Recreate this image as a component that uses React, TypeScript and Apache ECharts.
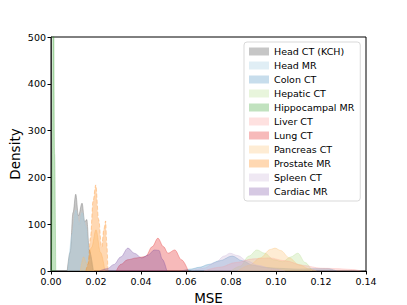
import React, { useEffect, useRef } from "react";
import * as echarts from "echarts";

const seriesNames = [
  "Head CT (KCH)",
  "Head MR",
  "Colon CT",
  "Hepatic CT",
  "Hippocampal MR",
  "Liver CT",
  "Lung CT",
  "Pancreas CT",
  "Prostate MR",
  "Spleen CT",
  "Cardiac MR",
];

const seriesColors = [
  "rgba(128,128,128,0.45)",
  "rgba(166,206,227,0.35)",
  "rgba(31,120,180,0.25)",
  "rgba(178,223,138,0.3)",
  "rgba(51,160,44,0.3)",
  "rgba(251,154,153,0.3)",
  "rgba(227,26,28,0.3)",
  "rgba(253,191,111,0.3)",
  "rgba(255,127,0,0.3)",
  "rgba(202,178,214,0.3)",
  "rgba(106,61,154,0.28)",
];

const headCTKCH = [[0.0072, 0], [0.0085, 40], [0.0098, 125], [0.011, 164], [0.0122, 118], [0.0138, 145], [0.015, 105], [0.0159, 110], [0.017, 45], [0.0187, 0]];
const headMR = [[0.0075, 0], [0.0095, 80], [0.011, 130], [0.0125, 100], [0.0138, 125], [0.0155, 95], [0.017, 40], [0.019, 0]];
const colonCT = [[0.058, 0], [0.062, 4], [0.066, 8], [0.07, 14], [0.075, 22], [0.0805, 32], [0.085, 22], [0.09, 12], [0.095, 8], [0.1, 6], [0.11, 4], [0.118, 5], [0.123, 5], [0.127, 0]];
const hepaticCT = [[0.08, 0], [0.084, 10], [0.088, 32], [0.0915, 45], [0.095, 38], [0.099, 24], [0.103, 20], [0.1065, 30], [0.1097, 38], [0.113, 18], [0.116, 0]];
const hippocampalMR = [[0.0002, 0], [0.0007, 250], [0.001, 800], [0.0013, 800], [0.0016, 250], [0.0021, 0]];
const liverCT = [[0.068, 0], [0.075, 8], [0.082, 18], [0.09, 26], [0.097, 28], [0.104, 22], [0.112, 12], [0.12, 6], [0.128, 5], [0.134, 3], [0.138, 0]];
const lungCT = [[0.029, 0], [0.031, 14], [0.034, 24], [0.038, 28], [0.042, 31], [0.045, 52], [0.0475, 70], [0.05, 52], [0.052, 38], [0.055, 45], [0.058, 24], [0.061, 0]];
const pancreasCTLow = [[0.013, 0], [0.0145, 30], [0.016, 15], [0.018, 50], [0.02, 88], [0.022, 40], [0.024, 0]];
const pancreasCTHigh = [[0.083, 0], [0.088, 12], [0.093, 28], [0.0975, 46], [0.0995, 49], [0.102, 44], [0.106, 28], [0.11, 14], [0.115, 4], [0.118, 0]];
const prostateMR = [[0.0155, 0], [0.0165, 15], [0.0175, 70], [0.0187, 150], [0.0199, 184], [0.0212, 110], [0.0225, 51], [0.0235, 90], [0.0243, 107], [0.0248, 60], [0.0253, 0]];
const spleenCT = [[0.062, 0], [0.068, 6], [0.073, 18], [0.077, 32], [0.0795, 38], [0.083, 33], [0.087, 22], [0.092, 12], [0.098, 5], [0.104, 0]];
const cardiacMR = [[0.0215, 0], [0.025, 5], [0.028, 14], [0.031, 30], [0.0342, 49], [0.037, 38], [0.0404, 28], [0.043, 34], [0.046, 45], [0.048, 44], [0.0495, 25], [0.0515, 0]];

const xTicks = [0, 0.02, 0.04, 0.06, 0.08, 0.1, 0.12, 0.14];
const yTicks = [0, 100, 200, 300, 400, 500];

const seriesData: number[][][][] = [
  [headCTKCH],
  [headMR],
  [colonCT],
  [hepaticCT],
  [hippocampalMR],
  [liverCT],
  [lungCT],
  [pancreasCTLow, pancreasCTHigh],
  [prostateMR],
  [spleenCT],
  [cardiacMR],
];

const FONT = "DejaVu Sans";

export default function App() {
  const ref = useRef<HTMLDivElement>(null);
  useEffect(() => {
    if (!ref.current) return;
    const chart = echarts.init(ref.current, undefined, { renderer: "svg" });
    const series: any[] = [];
    seriesNames.forEach((name, i) => {
      seriesData[i].forEach((d) => {
        series.push({
          name,
          type: "line",
          data: d,
          smooth: 0.35,
          smoothMonotone: "x",
          symbol: "none",
          showSymbol: false,
          clip: true,
          lineStyle: {
            color: seriesColors[i],
            width: 1,
            type: name === "Prostate MR" ? "dashed" : "solid",
          },
          itemStyle: { color: seriesColors[i] },
          areaStyle: { color: seriesColors[i], opacity: 1 },
          z: 2 + i,
        });
      });
    });
    chart.setOption({
      animation: false,
      grid: {
        left: 51,
        right: 41,
        top: 37,
        bottom: 34,
        containLabel: false,
        outerBoundsMode: "none",
        show: true,
        borderColor: "#000",
        borderWidth: 1,
        backgroundColor: "transparent",
      },
      legend: {
        data: seriesNames.map((n, i) => ({
          name: n,
          icon: "rect",
          itemStyle: { color: seriesColors[i] },
        })),
        orient: "vertical",
        left: 244,
        top: 42,
        itemWidth: 20,
        itemHeight: 8,
        itemGap: 3,
        padding: [4, 6, 4, 5],
        backgroundColor: "rgba(255,255,255,0.85)",
        borderColor: "#d9d9d9",
        borderWidth: 1,
        borderRadius: 3,
        textStyle: { fontFamily: FONT, fontSize: 9.5, color: "#000", lineHeight: 11 },
        selectedMode: false,
      },
      xAxis: {
        type: "value",
        min: xTicks[0],
        max: xTicks[xTicks.length - 1],
        interval: 0.02,
        name: "MSE",
        nameLocation: "middle",
        nameGap: 18,
        nameTextStyle: { fontFamily: FONT, fontSize: 13.5, color: "#000" },
        axisLine: { show: true, lineStyle: { color: "#000", width: 1 } },
        axisTick: { show: true, length: 3.5, lineStyle: { color: "#000" } },
        axisLabel: {
          fontFamily: FONT,
          fontSize: 9.5,
          color: "#000",
          margin: 5,
          formatter: (v: number) => v.toFixed(2),
        },
        splitLine: { show: false },
      },
      yAxis: {
        type: "value",
        min: yTicks[0],
        max: yTicks[yTicks.length - 1],
        interval: 100,
        name: "Density",
        nameLocation: "middle",
        nameGap: 29,
        nameMoveOverlap: false,
        nameTextStyle: { fontFamily: FONT, fontSize: 13.5, color: "#000" },
        axisLine: { show: true, lineStyle: { color: "#333", width: 1 } },
        axisTick: { show: true, length: 3.5, lineStyle: { color: "#000" } },
        axisLabel: { fontFamily: FONT, fontSize: 9.5, color: "#000", margin: 5 },
        splitLine: { show: false },
      },
      series,
    });
    return () => chart.dispose();
  }, []);
  return (
    <div
      ref={ref}
      style={{ position: "fixed", left: 0, top: 0, width: 407, height: 305, background: "#fff" }}
    />
  );
}
